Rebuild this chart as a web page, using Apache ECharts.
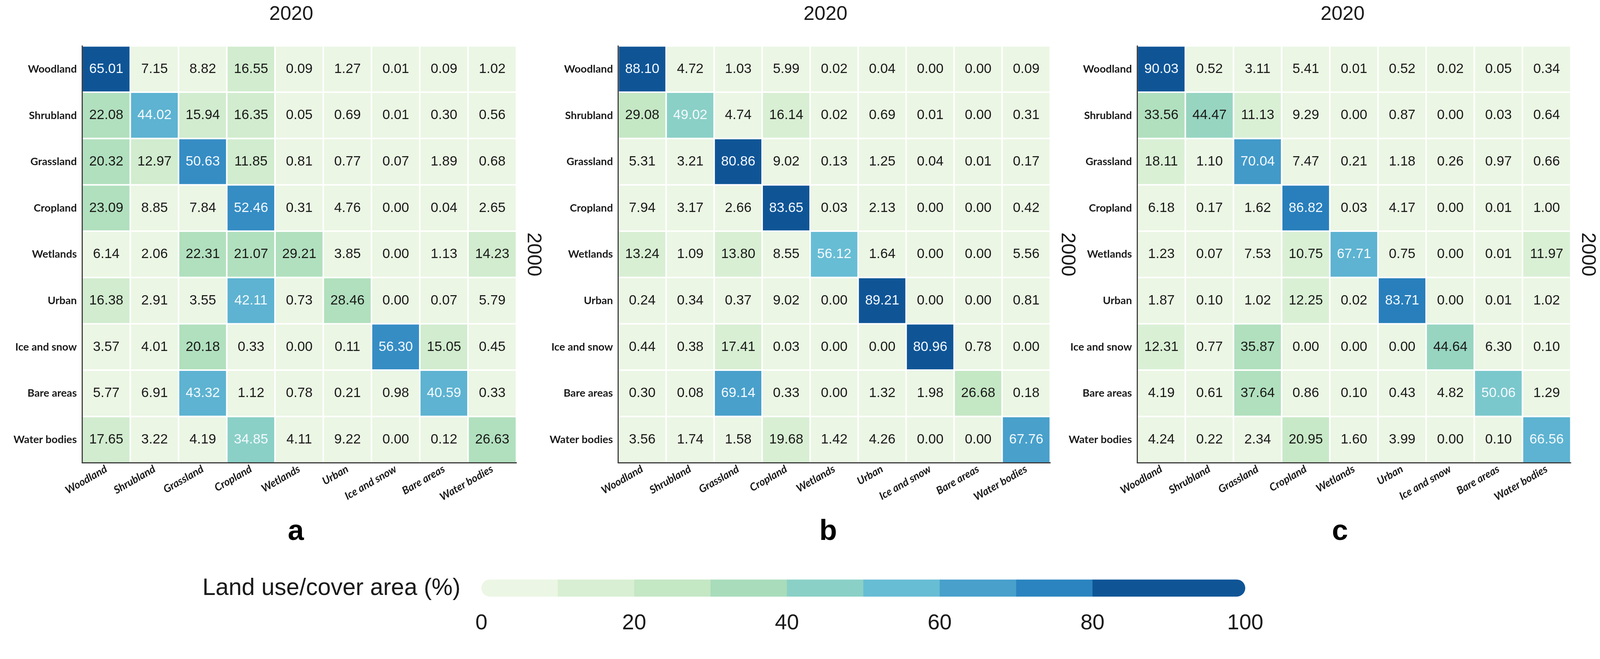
<!DOCTYPE html>
<html><head><meta charset="utf-8">
<script src="https://cdn.jsdelivr.net/npm/echarts@6/dist/echarts.min.js"></script>
<style>html,body{margin:0;padding:0;background:#fff;overflow:hidden}#chart{width:100vw;height:100vh}</style>
</head><body><div id="chart"></div>
<script>
// ---------- data ----------
const classes = ['Woodland','Shrubland','Grassland','Cropland','Wetlands','Urban','Ice and snow','Bare areas','Water bodies'];
// rows: class in 2000, columns: class in 2020
const panelA = [
  [65.01, 7.15, 8.82, 16.55, 0.09, 1.27, 0.01, 0.09, 1.02],
  [22.08, 44.02, 15.94, 16.35, 0.05, 0.69, 0.01, 0.30, 0.56],
  [20.32, 12.97, 50.63, 11.85, 0.81, 0.77, 0.07, 1.89, 0.68],
  [23.09, 8.85, 7.84, 52.46, 0.31, 4.76, 0.00, 0.04, 2.65],
  [6.14, 2.06, 22.31, 21.07, 29.21, 3.85, 0.00, 1.13, 14.23],
  [16.38, 2.91, 3.55, 42.11, 0.73, 28.46, 0.00, 0.07, 5.79],
  [3.57, 4.01, 20.18, 0.33, 0.00, 0.11, 56.30, 15.05, 0.45],
  [5.77, 6.91, 43.32, 1.12, 0.78, 0.21, 0.98, 40.59, 0.33],
  [17.65, 3.22, 4.19, 34.85, 4.11, 9.22, 0.00, 0.12, 26.63]
];
const panelB = [
  [88.10, 4.72, 1.03, 5.99, 0.02, 0.04, 0.00, 0.00, 0.09],
  [29.08, 49.02, 4.74, 16.14, 0.02, 0.69, 0.01, 0.00, 0.31],
  [5.31, 3.21, 80.86, 9.02, 0.13, 1.25, 0.04, 0.01, 0.17],
  [7.94, 3.17, 2.66, 83.65, 0.03, 2.13, 0.00, 0.00, 0.42],
  [13.24, 1.09, 13.80, 8.55, 56.12, 1.64, 0.00, 0.00, 5.56],
  [0.24, 0.34, 0.37, 9.02, 0.00, 89.21, 0.00, 0.00, 0.81],
  [0.44, 0.38, 17.41, 0.03, 0.00, 0.00, 80.96, 0.78, 0.00],
  [0.30, 0.08, 69.14, 0.33, 0.00, 1.32, 1.98, 26.68, 0.18],
  [3.56, 1.74, 1.58, 19.68, 1.42, 4.26, 0.00, 0.00, 67.76]
];
const panelC = [
  [90.03, 0.52, 3.11, 5.41, 0.01, 0.52, 0.02, 0.05, 0.34],
  [33.56, 44.47, 11.13, 9.29, 0.00, 0.87, 0.00, 0.03, 0.64],
  [18.11, 1.10, 70.04, 7.47, 0.21, 1.18, 0.26, 0.97, 0.66],
  [6.18, 0.17, 1.62, 86.82, 0.03, 4.17, 0.00, 0.01, 1.00],
  [1.23, 0.07, 7.53, 10.75, 67.71, 0.75, 0.00, 0.01, 11.97],
  [1.87, 0.10, 1.02, 12.25, 0.02, 83.71, 0.00, 0.01, 1.02],
  [12.31, 0.77, 35.87, 0.00, 0.00, 0.00, 44.64, 6.30, 0.10],
  [4.19, 0.61, 37.64, 0.86, 0.10, 0.43, 4.82, 50.06, 1.29],
  [4.24, 0.22, 2.34, 20.95, 1.60, 3.99, 0.00, 0.10, 66.56]
];
const panelLetters = ['a','b','c'];
const xTitle = '2020';
const yTitle = '2000';
const legendTitle = 'Land use/cover area (%)';
const colorbarTicks = [0, 20, 40, 60, 80, 100];
const colorbarBreaks = [0, 10, 20, 30, 40, 50, 60, 70, 80, 100];

// ---------- style (designed for a 4208 x 1688 canvas, scaled uniformly to the real width) ----------
const palette = ['#ebf6e4','#d8efd3','#c4e7c4','#a8dcbb','#8ad0c6','#67bdd4','#48a0cb','#2b84c0','#0f5596'];
const baseW = 4208;
const gridsBase = [
  {left: 216, top: 121, width: 1142, height: 1097},
  {left: 1626, top: 121, width: 1136, height: 1097},
  {left: 2991, top: 121, width: 1140, height: 1097}
];
const titleX = [766, 2171, 3531];
const letterX = [778, 2178, 3524];
const legendGridBase = {left: 1266, top: 1525, width: 2009, height: 45};
const axisColor = '#3d3d3d';
const textColor = '#1a1a1a';

function hexToRgb(h){ return [parseInt(h.slice(1,3),16), parseInt(h.slice(3,5),16), parseInt(h.slice(5,7),16)]; }
function lerpColor(t){
  t = Math.max(0, Math.min(1, t));
  const pos = t * (palette.length - 1);
  const i = Math.min(Math.floor(pos), palette.length - 2);
  const f = pos - i;
  const a = hexToRgb(palette[i]), b = hexToRgb(palette[i+1]);
  const c = a.map((v, k) => Math.round(v + (b[k] - v) * f));
  return 'rgb(' + c.join(',') + ')';
}

const el = document.getElementById('chart');
const chart = echarts.init(el, null, {renderer: 'canvas'});
const W = chart.getWidth();
const s = W / baseW;
const X = (v) => v * s, Y = (v) => v * s, F = (v) => v * s;
const scaleGrid = (g) => ({left: X(g.left), top: Y(g.top), width: X(g.width), height: Y(g.height)});

const panels = [panelA, panelB, panelC];
const option = {
  backgroundColor: '#fff',
  animation: false,
  grid: [...gridsBase.map(scaleGrid), scaleGrid(legendGridBase)],
  xAxis: [],
  yAxis: [],
  visualMap: [],
  series: [],
  graphic: []
};

panels.forEach((mat, p) => {
  const maxV = Math.max(...mat.flat());
  const nBins = Math.ceil(maxV / 10);
  const pieces = [];
  for (let k = 0; k < nBins; k++) {
    const piece = {gte: k * 10, color: lerpColor(nBins > 1 ? k / (nBins - 1) : 1)};
    if (k < nBins - 1) piece.lt = (k + 1) * 10;
    pieces.push(piece);
  }
  const data = [];
  mat.forEach((row, r) => row.forEach((v, c) => {
    const bin = Math.min(Math.floor(v / 10), nBins - 1);
    const dark = bin / (nBins - 1) >= 0.5;
    data.push({value: [c, r, v], label: {color: dark ? '#f4f9ff' : textColor}});
  }));

  option.xAxis.push({
    type: 'category', gridIndex: p, data: classes, z: 5,
    axisLine: {lineStyle: {color: axisColor, width: F(3)}},
    axisTick: {alignWithLabel: true, length: F(10), lineStyle: {color: axisColor, width: F(2)}},
    axisLabel: {interval: 0, rotate: 30, margin: F(14), fontFamily: 'Lato', fontWeight: 'bold',
      fontStyle: 'italic', fontSize: F(28), color: textColor},
    splitLine: {show: false}
  });
  option.yAxis.push({
    type: 'category', gridIndex: p, data: classes, inverse: true, z: 5,
    axisLine: {lineStyle: {color: axisColor, width: F(3)}},
    axisTick: {alignWithLabel: true, length: F(10), lineStyle: {color: axisColor, width: F(2)}},
    axisLabel: {interval: 0, margin: F(14), fontFamily: 'Lato', fontWeight: 'bold', fontSize: F(28), color: textColor},
    splitLine: {show: false}
  });
  option.yAxis.push({
    type: 'category', gridIndex: p, data: classes, inverse: true, position: 'right',
    name: yTitle, nameLocation: 'middle', nameRotate: -90, nameGap: F(18),
    nameTextStyle: {fontFamily: 'Liberation Sans', fontSize: F(52), color: textColor},
    axisLine: {show: false}, axisTick: {show: false}, axisLabel: {show: false}, splitLine: {show: false}
  });
  option.visualMap.push({type: 'piecewise', show: false, seriesIndex: p, dimension: 2, pieces: pieces});
  option.series.push({
    type: 'heatmap', xAxisIndex: p, yAxisIndex: 2 * p, data: data,
    itemStyle: {borderColor: '#ffffff', borderWidth: F(4)},
    label: {show: true, fontFamily: 'Liberation Sans', fontSize: F(36),
      formatter: (prm) => prm.value[2].toFixed(2)},
    emphasis: {disabled: true}
  });
  option.graphic.push({type: 'text', x: X(titleX[p]), y: Y(38),
    style: {text: xTitle, font: F(52) + 'px "Liberation Sans"', fill: textColor, textAlign: 'center', textVerticalAlign: 'middle'}});
  option.graphic.push({type: 'text', x: X(letterX[p]), y: Y(1400),
    style: {text: panelLetters[p], font: 'bold ' + F(76) + 'px "Liberation Sans"', fill: '#000', textAlign: 'center', textVerticalAlign: 'middle'}});
});

// colour bar legend
option.xAxis.push({
  type: 'value', gridIndex: 3, min: 0, max: 100, interval: 20,
  axisLine: {show: false}, axisTick: {show: false}, splitLine: {show: false},
  axisLabel: {margin: F(42), fontFamily: 'Liberation Sans', fontSize: F(57), color: textColor,
    formatter: (v) => colorbarTicks.includes(v) ? String(v) : ''}
});
option.yAxis.push({type: 'value', gridIndex: 3, min: 0, max: 1, show: false});
const legendData = [];
for (let i = 0; i < colorbarBreaks.length - 1; i++) legendData.push([colorbarBreaks[i], colorbarBreaks[i+1], i]);
const nLeg = legendData.length;
option.series.push({
  type: 'custom', xAxisIndex: 3, yAxisIndex: 6, data: legendData, silent: true,
  renderItem: (params, api) => {
    const i = api.value(2);
    const p0 = api.coord([api.value(0), 1]);
    const p1 = api.coord([api.value(1), 0]);
    const h = p1[1] - p0[1];
    const rr = h / 2;
    let r = 0;
    if (i === 0) r = [rr, 0, 0, rr];
    if (i === nLeg - 1) r = [0, rr, rr, 0];
    return {type: 'rect', shape: {x: p0[0], y: p0[1], width: p1[0] - p0[0] + (i === nLeg - 1 ? 0 : 0.5), height: h, r: r},
      style: {fill: palette[i]}};
  }
});
option.graphic.push({type: 'text', x: X(1211), y: Y(1549),
  style: {text: legendTitle, font: F(62) + 'px "Liberation Sans"', fill: textColor, textAlign: 'right', textVerticalAlign: 'middle'}});

chart.setOption(option);
</script></body></html>
